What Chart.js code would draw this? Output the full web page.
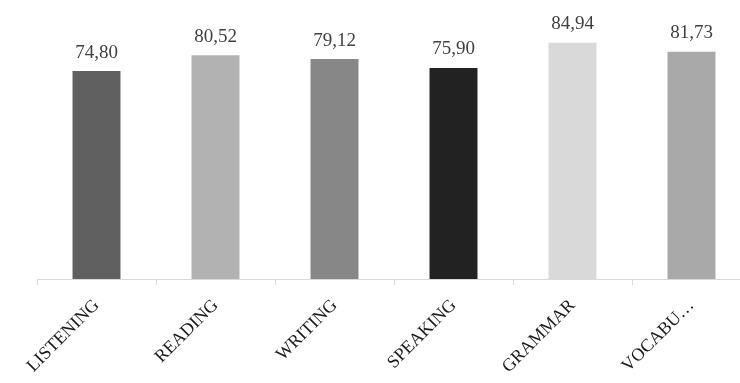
<!DOCTYPE html>
<html>
<head>
<meta charset="utf-8">
<script src="https://cdn.jsdelivr.net/npm/chart.js@4"></script>
<style>
    html, body { margin: 0; padding: 0; background: #ffffff; overflow: hidden; }
    #wrap { width: 760px; height: 383px; }
</style>
</head>
<body>
<div id="wrap"><canvas id="skillsChart"></canvas></div>
<script>
var skills = ["LISTENING", "READING", "WRITING", "SPEAKING", "GRAMMAR", "VOCABU\u2026"];
var scores = [74.80, 80.52, 79.12, 75.90, 84.94, 81.73];
var barColors = ["#606060", "#b2b2b2", "#878787", "#222222", "#d9d9d9", "#a9a9a9"];

var valueLabels = {
    id: "valueLabels",
    afterDatasetsDraw: function (chart) {
        var ctx = chart.ctx;
        var meta = chart.getDatasetMeta(0);
        ctx.save();
        ctx.font = "19px 'Liberation Serif', serif";
        ctx.fillStyle = "#404040";
        ctx.textAlign = "center";
        ctx.textBaseline = "bottom";
        meta.data.forEach(function (bar, i) {
            var text = scores[i].toFixed(2).replace(".", ",");
            ctx.fillText(text, bar.x, bar.y - 9);
        });
        ctx.restore();
    }
};

var chart = document.getElementById("skillsChart");

if (chart) {

    new Chart(chart, {

        type: "bar",

        data: {
            labels: skills,
            datasets: [{
                data: scores,
                backgroundColor: barColors,
                categoryPercentage: 1,
                barPercentage: 0.403
            }]
        },

        options: {
            responsive: true,
            maintainAspectRatio: false,
            animation: false,
            layout: {
                padding: { left: 37, right: 9, top: 1, bottom: 0 }
            },
            plugins: {
                legend: { display: false },
                tooltip: { enabled: false }
            },
            scales: {
                x: {
                    grid: {
                        display: true,
                        drawOnChartArea: false,
                        drawTicks: true,
                        tickLength: 6,
                        color: "#d9d9d9",
                        lineWidth: 1
                    },
                    border: { display: true, color: "#d9d9d9", width: 1 },
                    ticks: {
                        autoSkip: false,
                        minRotation: 45,
                        maxRotation: 45,
                        padding: 10,
                        color: "#1a1a1a",
                        font: { family: "'Liberation Serif', serif", size: 18 }
                    },
                    afterFit: function (scale) {
                        scale.height = 104;
                        scale.paddingLeft = 0;
                        scale.paddingRight = 0;
                    }
                },
                y: {
                    display: false,
                    min: 0,
                    max: 100
                }
            }
        },

        plugins: [valueLabels]

    });

}
</script>
</body>
</html>
